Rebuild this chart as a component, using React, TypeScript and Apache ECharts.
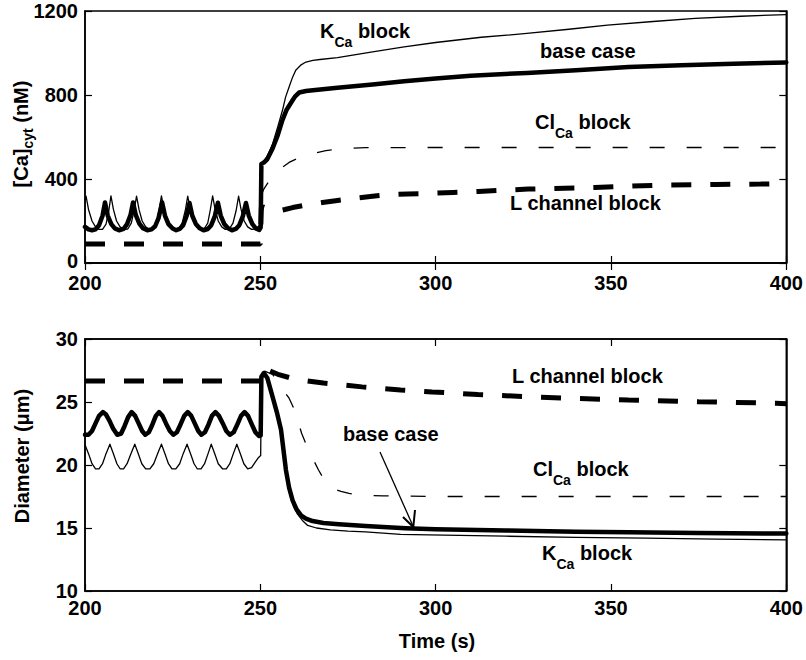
import React, { useEffect, useRef } from "react";
import * as echarts from "echarts";

const FONT = "'Liberation Sans', Arial, Helvetica, sans-serif";

const xTicks = { min: 200, max: 400, interval: 50 };
const caTicks = { min: 0, max: 1200, interval: 400 };
const dTicks = { min: 10, max: 30, interval: 5 };

// ---- [Ca]cyt (nM) ----
const caBase: [number, number][] = [
  [200, 172], [201, 160], [202, 156], [203, 160], [204, 180], [205, 225], [205.7, 288], [206.5, 225], [207.5, 185], [208.5, 165],
  [209.7, 156], [211, 163], [212, 185], [213, 230], [213.7, 288], [214.5, 228], [215.5, 188], [216.5, 166], [217.8, 156], [219, 160],
  [220, 175], [221, 215], [222, 288], [222.8, 226], [223.8, 185], [225, 164], [226, 156], [227, 162], [228, 180], [229, 225],
  [229.8, 286], [230.6, 225], [231.6, 186], [232.7, 165], [233.8, 156], [235, 162], [236, 180], [237, 222], [237.9, 287], [238.7, 226],
  [239.7, 186], [240.8, 165], [241.9, 156], [243, 162], [244, 180], [245, 222], [245.9, 286], [246.7, 226], [247.7, 186], [248.7, 165],
  [249.7, 158], [250.1, 170], [250.3, 472], [251, 478], [252, 495], [253.5, 545], [255, 610], [256.3, 680], [257.5, 730], [259.2, 775],
  [260, 795], [261.1, 812], [263, 819], [265, 823], [272, 835], [282, 850], [291, 866], [300, 879], [310, 892], [326, 905],
  [340, 918], [355, 933], [370, 942], [385, 949], [400, 955],
];
const caKca: [number, number][] = [
  [200, 300], [200.3, 318], [201, 255], [202, 200], [203, 172], [204, 160], [205, 160], [206, 185], [206.8, 250], [207.4, 320],
  [208.1, 255], [209, 200], [210, 172], [211.1, 160], [212.2, 162], [213.2, 190], [214, 250], [214.7, 318], [215.4, 255], [216.3, 200],
  [217.3, 172], [218.3, 160], [219.3, 163], [220.3, 190], [221.1, 250], [221.8, 320], [222.5, 255], [223.5, 200], [224.5, 172], [225.6, 160],
  [226.7, 163], [227.7, 190], [228.6, 250], [229.3, 318], [230, 255], [231, 200], [232, 172], [233, 160], [234, 163], [235, 190],
  [235.7, 250], [236.4, 320], [237.1, 255], [238, 200], [239, 172], [240, 160], [241.2, 163], [242.2, 190], [243.1, 250], [243.8, 318],
  [244.5, 255], [245.4, 200], [246.4, 172], [247.5, 160], [248.5, 162], [249.5, 175], [250.1, 185], [250.3, 472], [251, 485], [252, 510],
  [253.5, 567], [255, 650], [256.3, 726], [257.2, 790], [258.2, 838], [259.2, 885], [260.1, 918], [261.5, 942], [263, 957], [265, 965],
  [267, 969], [272, 978], [282, 1005], [291, 1029], [300, 1050], [313, 1075], [326, 1093], [338, 1113], [349, 1133], [362, 1150],
  [374, 1165], [387, 1175], [400, 1183],
];
const caClca: [number, number][] = [
  [250.2, 320], [251, 352], [252, 378], [253, 402], [254.4, 424], [256, 452], [258.2, 479], [260.5, 497], [263, 511], [266, 525],
  [268.7, 535], [271.5, 542], [274.3, 546], [280, 549], [300, 550], [400, 550],
];
const caL: [number, number][] = [
  [200, 90], [250, 90], [250.3, 265], [251, 266], [252.6, 257], [254, 250], [255.4, 249], [257, 255], [259.2, 264], [263, 276],
  [267.7, 288], [272, 298], [277.2, 309], [282, 318], [286.6, 325], [292, 329], [298, 331], [305, 336], [312.2, 341], [326.4, 352],
  [345.4, 360], [364.3, 371], [380, 374], [392.7, 376], [400, 378],
];

// ---- Diameter (um) ----
const dBase: [number, number][] = [
  [200, 22.4], [201, 22.4], [202, 22.7], [203, 23.3], [204, 23.9], [205.1, 24.2], [206, 24.0], [207, 23.5], [208, 22.9], [209.2, 22.4],
  [210.3, 22.5], [211.3, 23.1], [212.3, 23.8], [213.3, 24.2], [214.3, 23.9], [215.3, 23.3], [216.3, 22.7], [217.2, 22.4], [218.2, 22.6], [219.2, 23.2],
  [220.2, 23.9], [221.1, 24.2], [222.1, 23.9], [223.1, 23.3], [224.2, 22.7], [225.2, 22.4], [226.2, 22.6], [227.2, 23.2], [228.3, 23.9], [229.3, 24.2],
  [230.3, 23.9], [231.3, 23.3], [232.3, 22.7], [233.2, 22.4], [234.2, 22.6], [235.2, 23.2], [236.2, 23.9], [237.2, 24.2], [238.2, 23.9], [239.3, 23.3],
  [240.3, 22.7], [241.3, 22.4], [242.4, 22.6], [243.4, 23.2], [244.5, 23.9], [245.5, 24.2], [246.5, 23.9], [247.6, 23.2], [248.6, 22.6], [249.6, 22.3],
  [250.1, 22.35], [250.3, 27.0], [251, 27.3], [252, 26.9], [253.5, 25.4], [254.7, 24.2], [255.9, 22.8], [256.6, 21.2], [257.3, 19.6], [258.2, 18.2],
  [259.2, 17.2], [260.3, 16.5], [261.6, 16.0], [263, 15.75], [264.9, 15.55], [268, 15.4], [272.4, 15.3], [280, 15.15], [291.4, 14.98], [300, 14.9],
  [320, 14.8], [340, 14.7], [355, 14.66], [375, 14.6], [400, 14.56],
];
const dKca: [number, number][] = [
  [200, 21.6], [201, 20.9], [202, 20.1], [203, 19.7], [204, 19.7], [205, 20.1], [206, 20.9], [207.1, 21.65], [208.1, 20.9], [209.1, 20.1],
  [210, 19.7], [211, 19.7], [212, 20.1], [213.1, 20.9], [214.2, 21.65], [215.2, 20.9], [216.2, 20.1], [217.3, 19.7], [218.5, 19.7], [219.6, 20.1],
  [220.7, 20.9], [221.8, 21.65], [222.8, 20.9], [223.8, 20.1], [224.8, 19.7], [225.9, 19.7], [227, 20.1], [228, 20.9], [229.1, 21.65], [230.1, 20.9],
  [231.1, 20.1], [232, 19.7], [233.1, 19.7], [234.1, 20.1], [235.1, 20.9], [236, 21.65], [237, 20.9], [238, 20.1], [239.2, 19.7], [240.3, 19.7],
  [241.3, 20.1], [242.3, 20.9], [243.3, 21.65], [244.3, 20.9], [245.3, 20.1], [246.4, 19.7], [247.5, 19.8], [248.5, 20.2], [249.5, 20.6], [250.1, 20.75],
  [250.3, 26.9], [251.1, 27.2], [252, 26.8], [253.5, 25.3], [254.8, 23.9], [256.1, 22.3], [256.9, 20.6], [257.6, 19.0], [258.5, 17.7], [259.5, 16.7],
  [260.6, 16.1], [262, 15.6], [263.5, 15.2], [266, 15.0], [270, 14.85], [275, 14.75], [280, 14.7], [290, 14.5], [298, 14.45], [320, 14.35],
  [340, 14.25], [360, 14.2], [380, 14.12], [400, 14.05],
];
const dClca: [number, number][] = [
  [250.5, 27.2], [251.2, 27.45], [253.5, 27.2], [255, 26.5], [258.2, 25.3], [259.7, 24.4], [261.8, 22.5], [263.7, 21.2], [266.6, 19.6], [268.9, 18.5],
  [271, 18.1], [273, 17.9], [275.3, 17.75], [278, 17.62], [285, 17.55], [300, 17.5], [400, 17.5],
];
const dL: [number, number][] = [
  [200, 26.67], [250, 26.67], [250.6, 27.5], [251.1, 27.65], [255, 27.2], [260, 26.8], [268, 26.5], [279, 26.2], [290, 25.95], [299, 25.8],
  [312, 25.6], [326, 25.42], [340, 25.28], [355, 25.16], [375, 25.02], [397, 24.9], [400, 24.87],
];

const thickSolid = { color: "#000", width: 4.5, type: "solid", join: "round", cap: "round" };
const thinSolid = { color: "#000", width: 1.3, type: "solid", join: "round" };
const thinDashed = { color: "#000", width: 1.3, type: [15, 22] };
const thickDashed = { color: "#000", width: 5, type: [20, 19] };

const richStyle = {
  a: { fontSize: 20, fontWeight: "bold", fontFamily: FONT, fill: "#000", lineHeight: 22, verticalAlign: "top" },
  s: { fontSize: 14, fontWeight: "bold", fontFamily: FONT, fill: "#000", lineHeight: 16, verticalAlign: "top", padding: [14, 0, 0, 0] },
};

function label(x: number, cy: number, text: string) {
  return {
    type: "text",
    x,
    y: cy - 11,
    style: { text, rich: richStyle, align: "left", verticalAlign: "top", fill: "#000" },
  };
}

export default function App() {
  const ref = useRef<HTMLDivElement>(null);
  useEffect(() => {
    if (!ref.current) return;
    const chart = echarts.init(ref.current, undefined, { renderer: "svg" });
    const labelStyle = {
      color: "#000", fontSize: 20, fontWeight: "bold", fontFamily: FONT, lineHeight: 16,
      formatter: (v: number) => String(v),
    };
    const mkX = (gridIndex: number, position: string, show: boolean, margin: number) => ({
      type: "value", gridIndex, position, ...xTicks,
      axisLine: { show: true, lineStyle: { color: "#000", width: 1.5 } },
      axisTick: { show: true, inside: true, length: 7, lineStyle: { color: "#000", width: 1.2 } },
      axisLabel: { show, ...labelStyle, margin },
      splitLine: { show: false },
    });
    const mkY = (gridIndex: number, position: string, show: boolean, ticks: any, liftMin: boolean) => ({
      type: "value", gridIndex, position, ...ticks,
      axisLine: { show: true, lineStyle: { color: "#000", width: 1.5 } },
      axisTick: { show: true, inside: true, length: 7, lineStyle: { color: "#000", width: 1.2 } },
      axisLabel: {
        show, ...labelStyle, margin: 7,
        formatter: (v: number) => (liftMin && v === ticks.min ? "{z|" + v + "}" : String(v)),
        rich: { z: { color: "#000", fontSize: 20, fontWeight: "bold", fontFamily: FONT, lineHeight: 16, padding: [0, 0, 5, 0] } },
      },
      splitLine: { show: false },
    });
    const line = (data: [number, number][], lineStyle: any, xi: number, yi: number, z: number) => ({
      type: "line", data, xAxisIndex: xi, yAxisIndex: yi, showSymbol: false, symbol: "none",
      lineStyle, z, silent: true, animation: false,
    });
    const subRich = {
      a: { fontSize: 20, fontWeight: "bold", fontFamily: FONT, fill: "#000", lineHeight: 22, verticalAlign: "top" },
      s: { fontSize: 14, fontWeight: "bold", fontFamily: FONT, fill: "#000", lineHeight: 16, verticalAlign: "top", padding: [10, 0, 0, 0] },
    };
    chart.setOption({
      animation: false,
      backgroundColor: "#fff",
      grid: [
        { left: 85, top: 11, width: 705, height: 252, show: true, borderColor: "#000", borderWidth: 1.5, backgroundColor: "transparent" },
        { left: 85, top: 339, width: 705, height: 252, show: true, borderColor: "#000", borderWidth: 1.5, backgroundColor: "transparent" },
      ],
      xAxis: [mkX(0, "bottom", true, 12), mkX(0, "top", false, 8), mkX(1, "bottom", true, 9), mkX(1, "top", false, 8)],
      yAxis: [
        mkY(0, "left", true, caTicks, true), mkY(0, "right", false, caTicks, false),
        mkY(1, "left", true, dTicks, false), mkY(1, "right", false, dTicks, false),
      ],
      series: [
        line(caL, thickDashed, 0, 0, 2),
        line(caClca, thinDashed, 0, 0, 3),
        line(caKca, thinSolid, 0, 0, 4),
        line(caBase, thickSolid, 0, 0, 5),
        line(dL, thickDashed, 2, 2, 2),
        line(dClca, thinDashed, 2, 2, 3),
        line(dKca, thinSolid, 2, 2, 4),
        line(dBase, thickSolid, 2, 2, 5),
      ],
      graphic: [
        {
          type: "text", x: 22, y: 134, rotation: Math.PI / 2,
          style: { text: "{a|[Ca]}{s|cyt}{a| (nM)}", rich: subRich, align: "center", verticalAlign: "middle", fill: "#000" },
        },
        {
          type: "text", x: 22, y: 456, rotation: Math.PI / 2,
          style: { text: "Diameter (\u03bcm)", fontSize: 20, fontWeight: "bold", fontFamily: FONT, align: "center", verticalAlign: "middle", fill: "#000" },
        },
        {
          type: "text", x: 437, y: 641,
          style: { text: "Time (s)", fontSize: 20, fontWeight: "bold", fontFamily: FONT, align: "center", verticalAlign: "middle", fill: "#000" },
        },
        label(320, 32, "{a|K}{s|Ca}{a| block}"),
        label(540, 52, "{a|base case}"),
        label(535, 123, "{a|Cl}{s|Ca}{a| block}"),
        label(510, 204, "{a|L channel block}"),
        label(512, 377, "{a|L channel block}"),
        label(533, 470, "{a|Cl}{s|Ca}{a| block}"),
        label(542, 554, "{a|K}{s|Ca}{a| block}"),
        label(343, 435, "{a|base case}"),
        { type: "line", shape: { x1: 380, y1: 452, x2: 413, y2: 526 }, style: { stroke: "#000", lineWidth: 1.3 } },
        { type: "polyline", shape: { points: [[403, 517], [413.3, 527], [415, 510]] }, style: { stroke: "#000", lineWidth: 2, fill: null } },
      ],
    });
    return () => chart.dispose();
  }, []);
  return <div ref={ref} style={{ position: "absolute", left: 0, top: 0, width: 806, height: 660 }} />;
}
